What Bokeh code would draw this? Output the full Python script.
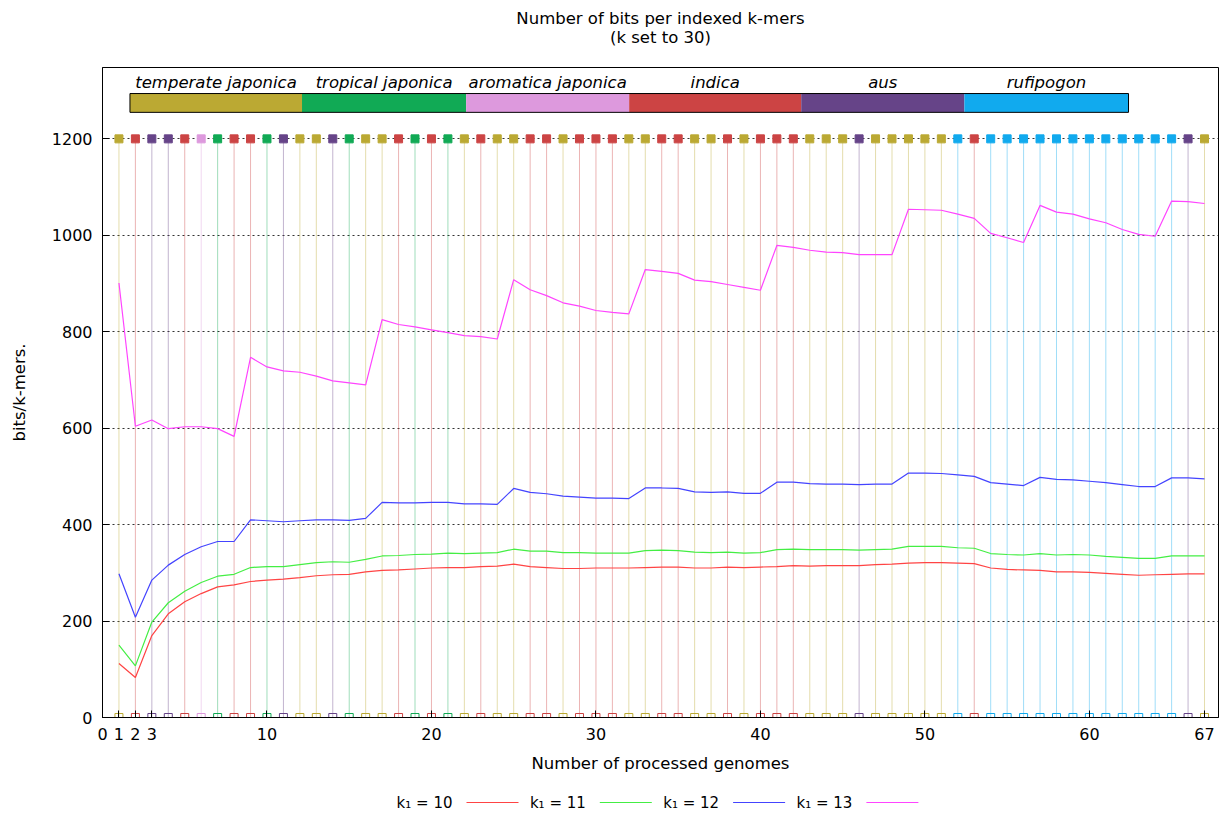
from bokeh.plotting import figure
from bokeh.layouts import column
from bokeh.models import FixedTicker, Range1d
from bokeh.core.properties import value
from bokeh.embed import file_html
from bokeh.resources import INLINE

# ---------------- data ----------------
genomes = list(range(1, 68))

k10 = [112, 83, 170, 215, 240, 257, 271, 275, 282, 285, 287, 290, 294, 296, 297, 302,
       305, 306, 308, 310, 311, 311, 313, 314, 318, 313, 311, 309, 309, 310, 310, 310,
       311, 312, 312, 310, 310, 312, 311, 312, 313, 315, 314, 315, 315, 315, 317, 318,
       320, 321, 321, 320, 319, 310, 307, 306, 305, 302, 302, 301, 299, 297, 295, 296,
       297, 298, 298]

k11 = [150, 107, 198, 238, 262, 280, 293, 297, 311, 313, 313, 317, 321, 323, 322, 328,
       335, 336, 338, 339, 341, 340, 341, 342, 349, 345, 345, 342, 342, 341, 341, 341,
       346, 347, 346, 343, 342, 343, 341, 342, 348, 349, 348, 348, 348, 347, 348, 349,
       355, 355, 355, 352, 351, 340, 338, 337, 340, 337, 338, 337, 334, 332, 330, 330,
       335, 335, 335]

k12 = [298, 208, 285, 316, 338, 354, 365, 365, 410, 408, 406, 408, 410, 410, 409, 413,
       446, 445, 445, 446, 446, 443, 443, 442, 475, 467, 464, 459, 457, 455, 455, 454,
       476, 476, 475, 468, 467, 468, 465, 465, 488, 488, 485, 484, 484, 483, 484, 484,
       507, 507, 506, 503, 500, 487, 484, 481, 498, 494, 493, 490, 487, 483, 479, 479,
       497, 497, 495]

k13 = [901, 604, 617, 599, 603, 603, 599, 583, 747, 727, 719, 716, 708, 698, 694, 690,
       825, 815, 810, 804, 798, 792, 790, 785, 908, 887, 875, 860, 853, 844, 840, 837,
       929, 925, 921, 907, 904, 898, 892, 886, 979, 975, 969, 965, 964, 960, 960, 960,
       1054, 1053, 1052, 1044, 1035, 1004, 995, 985, 1062, 1048, 1044, 1034, 1026, 1012, 1002, 998,
       1071, 1070, 1066]

genome_group = [
    "temperate japonica", "indica", "aus", "aus", "indica", "aromatica japonica",
    "tropical japonica", "indica", "indica", "tropical japonica", "aus",
    "temperate japonica", "temperate japonica", "aus", "tropical japonica",
    "temperate japonica", "temperate japonica", "indica", "tropical japonica", "indica",
    "tropical japonica", "temperate japonica",
    "indica", "temperate japonica", "temperate japonica", "indica", "indica",
    "temperate japonica", "indica", "indica", "indica", "temperate japonica",
    "temperate japonica", "indica", "indica", "temperate japonica", "temperate japonica",
    "indica", "temperate japonica", "indica", "indica", "indica", "temperate japonica",
    "temperate japonica", "temperate japonica",
    "aus", "temperate japonica", "temperate japonica", "temperate japonica",
    "temperate japonica", "temperate japonica", "rufipogon", "indica",
    "rufipogon", "rufipogon", "rufipogon", "rufipogon", "rufipogon", "rufipogon",
    "rufipogon", "rufipogon", "rufipogon", "rufipogon", "rufipogon", "rufipogon",
    "aus", "temperate japonica",
]

group_names = ["temperate japonica", "tropical japonica", "aromatica japonica",
               "indica", "aus", "rufipogon"]
group_colors = ["#BBA933", "#11AA55", "#DD99DD", "#CC4444", "#664488", "#11AAEE"]

series_labels = ["k\u2081 = 10", "k\u2081 = 11", "k\u2081 = 12", "k\u2081 = 13"]
series_colors = ["#FF4444", "#44EE44", "#4444FF", "#FF44FF"]

title_lines = ["Number of bits per indexed k-mers", "(k set to 30)"]

x_ticks = [0, 1, 2, 3, 10, 20, 30, 40, 50, 60, 67]
y_ticks = [0, 200, 400, 600, 800, 1000, 1200]

# ---------------- layout constants ----------------
FONT = "DejaVu Sans"
W = 1220
HEAD_H = 50
MAIN_H = 735
LEG_H = 29
FRAME_L, FRAME_R = 102, 1218       # frame edges in page pixels (column aligns frames)
bar_bounds = [1.67, 12.13, 22.11, 32.02, 42.48, 52.40, 62.38]
bar_bottom, bar_top = 1255, 1294
marker_level = y_ticks[-1]

color_of = dict(zip(group_names, group_colors))
g_colors = [color_of[g] for g in genome_group]

# ---------------- header (two centred title lines) ----------------
head = figure(width=W, height=HEAD_H, x_range=Range1d(FRAME_L, FRAME_R),
              y_range=Range1d(HEAD_H, 0), output_backend="svg", toolbar_location=None,
              x_axis_type=None, y_axis_type=None, min_border=0)
head.outline_line_color = None
head.grid.visible = False
head.text(x=[(FRAME_L + FRAME_R) / 2] * 2, y=[18, 37], text=title_lines,
          text_font=value(FONT), text_font_size="16.5px", text_color="black",
          text_align="center", text_baseline="middle")

# ---------------- main plot ----------------
p = figure(width=W, height=MAIN_H, x_range=Range1d(0, 67.85), y_range=Range1d(0, 1348),
           output_backend="svg", toolbar_location=None,
           min_border_left=FRAME_L, min_border_right=W - FRAME_R,
           min_border_top=17, min_border_bottom=68)

p.outline_line_color = "black"
p.outline_line_width = 1

p.xaxis.ticker = FixedTicker(ticks=x_ticks)
p.yaxis.ticker = FixedTicker(ticks=y_ticks)
for ax in (p.xaxis, p.yaxis):
    ax.minor_tick_line_color = None
    ax.major_tick_out = 0
    ax.major_tick_in = 7
    ax.major_tick_line_color = "black"
    ax.axis_line_color = "black"
    ax.major_label_text_font = FONT
    ax.major_label_text_font_size = "16px"
    ax.major_label_text_color = "black"
    ax.axis_label_text_font = FONT
    ax.axis_label_text_font_size = "16.5px"
    ax.axis_label_text_font_style = "normal"
    ax.axis_label_text_color = "black"
p.xaxis.axis_label = "Number of processed genomes"
p.yaxis.axis_label = "bits/k-mers."
p.xaxis.major_label_standoff = 10
p.xaxis.axis_label_standoff = 11
p.yaxis.major_label_standoff = 10
p.yaxis.axis_label_standoff = 20

p.xgrid.visible = False
p.ygrid.ticker = FixedTicker(ticks=y_ticks[1:])
p.ygrid.grid_line_color = "black"
p.ygrid.grid_line_dash = "2 3"
p.ygrid.grid_line_alpha = 0.8

# genome markers
p.segment(x0=genomes, y0=0, x1=genomes, y1=marker_level, line_color=g_colors,
          line_alpha=0.4, line_width=1)
p.scatter(genomes, [marker_level] * len(genomes), marker="square", size=8,
          fill_color=g_colors, line_color=g_colors)
p.scatter(genomes, [0] * len(genomes), marker="square", size=8,
          fill_color=None, line_color=g_colors, line_width=1)

# group bar
p.quad(left=bar_bounds[:-1], right=bar_bounds[1:], bottom=bar_bottom, top=bar_top,
       fill_color=group_colors, line_color=None)
p.quad(left=[bar_bounds[0]], right=[bar_bounds[-1]], bottom=bar_bottom, top=bar_top,
       fill_color=None, line_color="black", line_width=1)
centers = [(a + b) / 2 for a, b in zip(bar_bounds[:-1], bar_bounds[1:])]
p.text(x=centers, y=[bar_top + 3] * len(centers), text=group_names,
       text_font=value(FONT), text_font_size="16.5px", text_font_style="italic",
       text_align="center", text_baseline="bottom", text_color="black")

# series lines
for data, col in zip([k10, k11, k12, k13], series_colors):
    p.line(genomes, data, line_color=col, line_width=1.2)

# ---------------- legend strip (gnuplot style: text, then line sample) ----------------
leg = figure(width=W, height=LEG_H, x_range=Range1d(FRAME_L, FRAME_R),
             y_range=Range1d(LEG_H, 0), output_backend="svg", toolbar_location=None,
             x_axis_type=None, y_axis_type=None, min_border=0)
leg.outline_line_color = None
leg.grid.visible = False
leg_x0, leg_step, leg_y = 452, 133.3, 17
text_x = [leg_x0 + i * leg_step for i in range(len(series_labels))]
leg.text(x=text_x, y=[leg_y] * len(text_x), text=series_labels,
         text_font=value(FONT), text_font_size="15px", text_color="black",
         text_align="right", text_baseline="middle")
leg.segment(x0=[x + 14 for x in text_x], y0=leg_y, x1=[x + 66 for x in text_x], y1=leg_y,
            line_color=series_colors, line_width=1.2)

layout = column(head, p, leg, spacing=0)
open("out.html", "w").write(file_html(layout, INLINE))
